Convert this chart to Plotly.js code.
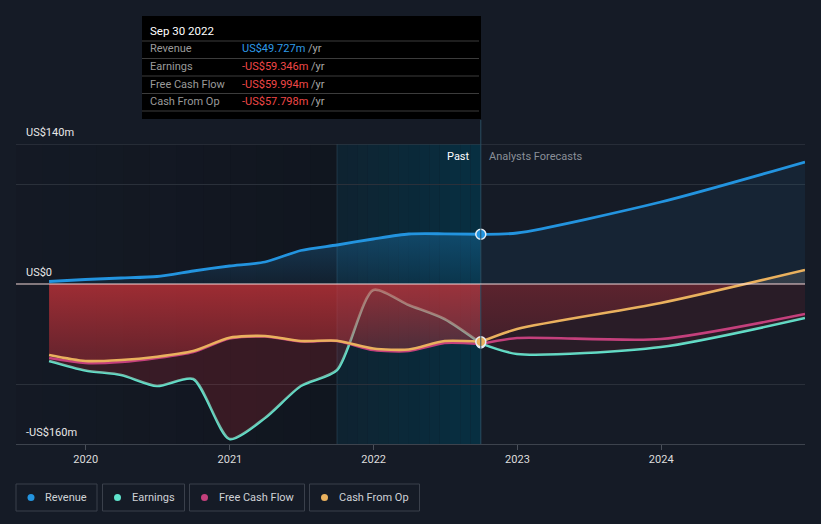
<!DOCTYPE html>
<html>
<head>
<meta charset="utf-8">
<script src="https://cdn.plot.ly/plotly-3.0.1.min.js"></script>
<style>
html,body{margin:0;padding:0;background:#151b26;}
#chart{width:821px;height:524px;}
</style>
</head>
<body>
<div id="chart"></div>
<script>
// ---- data (US$ millions) ----
const pastDates = ['2019-09-30','2019-12-31','2020-03-31','2020-06-30','2020-09-30','2020-12-31','2021-03-31','2021-06-30','2021-09-30','2021-12-31','2022-03-31','2022-06-30','2022-09-30'];
const pastRevenue  = [2.5, 4.5, 6, 7.5, 13, 18, 22, 33.5, 39, 45, 50, 50.2, 49.727];
const pastEarnings = [-77, -86.5, -91, -102, -95, -155, -134, -102, -86, -6, -21, -35, -59.346];
const pastFcf      = [-74, -79, -78, -74, -68, -54.5, -52.5, -57.5, -57, -66, -67, -59, -59.994];
const pastCfo      = [-71, -77, -76, -72.7, -67, -53.7, -52, -57, -56.7, -64.5, -65.5, -57, -57.798];

const fcDates = ['2022-09-30','2022-12-31','2023-12-31','2024-12-31'];
const fcRevenue  = [49.727, 51, 82, 122];
const fcEarnings = [-59.346, -70, -63, -34];
const fcFcf      = [-59.994, -54, -55, -30];
const fcCfo      = [-57.798, -45, -19, 14];

const yearTicks = ['2020-01-01','2021-01-01','2022-01-01','2023-01-01','2024-01-01'];
const yearLabels = ['2020','2021','2022','2023','2024'];
const yLabelVals = [140, 0, -160];
const yLabelText = ['US$140m','US$0','-US$160m'];

const seriesNames = ['Revenue','Earnings','Free Cash Flow','Cash From Op'];
const seriesColors = ['#2394df','#5fe3cc','#c4407c','#eab15e'];

const tipDate = 'Sep 30 2022';
const tipValues = ['US$49.727m','-US$59.346m','-US$59.994m','-US$57.798m'];
const tipColors = ['#2e9be8','#f04848','#f04848','#f04848'];

const highlightStart = '2021-09-30';
const highlightEnd = '2022-09-30';

// ---- geometry helpers (layout only) ----
const W = 821, H = 524, ML = 16, MR = 16, MT = 144, MB = 80;
const PW = W - ML - MR, PH = H - MT - MB;
const px = x => (x - ML) / PW;
const py = y => (H - MB - y) / PH;
function fmt(ms){
  const d = new Date(ms);
  const p = n => String(n).padStart(2,'0');
  return d.getUTCFullYear()+'-'+p(d.getUTCMonth()+1)+'-'+p(d.getUTCDate())+' '+p(d.getUTCHours())+':'+p(d.getUTCMinutes());
}
const FONT = 'Roboto, "Open Sans", sans-serif';

const traces = [];
const sp = {shape:'spline', smoothing:0.7};

// revenue fills
traces.push({x:pastDates, y:pastRevenue, type:'scatter', mode:'none', fill:'tozeroy',
  line:sp, fillgradient:{type:'vertical', start:0, stop:50,
  colorscale:[[0,'rgba(35,148,223,0.08)'],[1,'rgba(35,148,223,0.28)']]}, hoverinfo:'skip'});
traces.push({x:fcDates, y:fcRevenue, type:'scatter', mode:'none', fill:'tozeroy',
  line:sp, fillcolor:'rgba(35,148,223,0.08)', hoverinfo:'skip'});

// earnings lines (under the fills)
traces.push({x:pastDates, y:pastEarnings, type:'scatter', mode:'lines', line:Object.assign({color:seriesColors[1], width:2.6}, sp), hoverinfo:'skip'});
traces.push({x:fcDates, y:fcEarnings, type:'scatter', mode:'lines', line:Object.assign({color:seriesColors[1], width:2.6}, sp), hoverinfo:'skip'});

// earnings fills
traces.push({x:pastDates, y:pastEarnings, type:'scatter', mode:'none', fill:'tozeroy', line:sp,
  fillcolor:'rgba(190,40,50,0.22)', hoverinfo:'skip'});
traces.push({x:fcDates, y:fcEarnings, type:'scatter', mode:'none', fill:'tozeroy', line:sp,
  fillcolor:'rgba(190,40,50,0.12)', hoverinfo:'skip'});

// cash from op fills
traces.push({x:pastDates, y:pastCfo, type:'scatter', mode:'none', fill:'tozeroy', line:sp,
  fillgradient:{type:'vertical', start:-70, stop:0,
  colorscale:[[0,'rgba(220,55,60,0.30)'],[1,'rgba(220,55,60,0.62)']]}, hoverinfo:'skip'});
traces.push({x:fcDates, y:fcCfo, type:'scatter', mode:'none', fill:'tozeroy', line:sp,
  fillgradient:{type:'vertical', start:-60, stop:20,
  colorscale:[[0,'rgba(200,50,60,0.15)'],[0.74,'rgba(200,50,60,0.32)'],[0.76,'rgba(120,120,120,0.28)'],[1,'rgba(120,120,120,0.28)']]}, hoverinfo:'skip'});

// lines
traces.push({x:pastDates, y:pastRevenue, type:'scatter', mode:'lines', line:Object.assign({color:seriesColors[0], width:2.8}, sp), hoverinfo:'skip'});
traces.push({x:fcDates, y:fcRevenue, type:'scatter', mode:'lines', line:Object.assign({color:seriesColors[0], width:2.8}, sp), hoverinfo:'skip'});
traces.push({x:pastDates, y:pastFcf, type:'scatter', mode:'lines', line:Object.assign({color:seriesColors[2], width:2.6}, sp), hoverinfo:'skip'});
traces.push({x:fcDates, y:fcFcf, type:'scatter', mode:'lines', line:Object.assign({color:seriesColors[2], width:2.6}, sp), hoverinfo:'skip'});
traces.push({x:pastDates, y:pastCfo, type:'scatter', mode:'lines', line:Object.assign({color:seriesColors[3], width:2.6}, sp), hoverinfo:'skip'});
traces.push({x:fcDates, y:fcCfo, type:'scatter', mode:'lines', line:Object.assign({color:seriesColors[3], width:2.6}, sp), hoverinfo:'skip'});

// markers at the last reported date
const lastIdx = pastDates.length - 1;
const mk = (vals, ci, size) => ({x:[pastDates[lastIdx]], y:[vals[lastIdx]], type:'scatter', mode:'markers',
  marker:{size:size, color:seriesColors[ci], line:{color:'#e8eef4', width:1.5}}, hoverinfo:'skip'});
traces.push(mk(pastEarnings,1,8));
traces.push(mk(pastFcf,2,8));
traces.push(mk(pastCfo,3,10));
traces.push(mk(pastRevenue,0,10));

// ---- shapes ----
const shapes = [];
// dark gradient on the past region left of highlight
const s0 = new Date('2019-07-08').getTime(), s1 = new Date(highlightStart).getTime();
const NL = 12;
for (let i=0;i<NL;i++){
  shapes.push({type:'rect', xref:'x', yref:'paper', x0:fmt(s0+(s1-s0)*i/NL), x1:fmt(s0+(s1-s0)*(i+1)/NL), y0:0, y1:1,
    fillcolor:'rgba(5,8,12,'+(0.02+0.22*(i+1)/NL).toFixed(3)+')', line:{width:0}, layer:'below'});
}
// teal highlight gradient
const h0 = new Date(highlightStart).getTime(), h1 = new Date(highlightEnd).getTime();
const NH = 14;
for (let i=0;i<NH;i++){
  shapes.push({type:'rect', xref:'x', yref:'paper', x0:fmt(h0+(h1-h0)*i/NH), x1:fmt(h0+(h1-h0)*(i+1)/NH), y0:0, y1:1,
    fillcolor:'rgba(4,52,72,'+(0.3+0.5*(i+1)/NH).toFixed(3)+')', line:{width:0}, layer:'below'});
}
// highlight borders
shapes.push({type:'line', xref:'x', yref:'paper', x0:highlightStart, x1:highlightStart, y0:0, y1:1, line:{color:'rgba(60,90,110,0.45)', width:1}, layer:'below'});
shapes.push({type:'line', xref:'x', yref:'paper', x0:highlightEnd, x1:highlightEnd, y0:0, y1:py(120), line:{color:'#2a4e62', width:1}, layer:'above'});
// top grid line (140)
shapes.push({type:'line', xref:'paper', yref:'y', x0:0, x1:1, y0:140, y1:140, line:{color:'#3a404a', width:1}, layer:'below'});
// zero line
shapes.push({type:'line', xref:'paper', yref:'y', x0:0, x1:1, y0:0, y1:0, line:{color:'rgba(255,225,225,0.95)', width:1.2}, layer:'above'});

// tooltip box
shapes.push({type:'rect', xref:'paper', yref:'paper', x0:px(142), x1:px(481), y0:py(119), y1:py(16), fillcolor:'#000000', line:{width:0}, layer:'above'});
[41, 58.5, 76, 93.5, 111].forEach(yy => {
  shapes.push({type:'line', xref:'paper', yref:'paper', x0:px(142), x1:px(479), y0:py(yy), y1:py(yy), line:{color:'#3c3c3c', width:1}, layer:'above'});
});

// legend boxes
const legBoxes = [[16,97],[102.5,184.5],[189.5,304.5],[309.5,419.5]];
legBoxes.forEach((b,i) => {
  shapes.push({type:'rect', xref:'paper', yref:'paper', x0:px(b[0]), x1:px(b[1]), y0:py(511), y1:py(484),
    line:{color:'#3a404b', width:1}, fillcolor:'rgba(0,0,0,0)', layer:'above'});
  shapes.push({type:'circle', xref:'paper', yref:'paper', x0:px(b[0]+11.5), x1:px(b[0]+18.5), y0:py(501), y1:py(494),
    line:{width:0}, fillcolor:seriesColors[i], layer:'above'});
});

// ---- annotations ----
const ann = [];
yLabelVals.forEach((v,i) => {
  ann.push({xref:'paper', yref:'y', x:px(24), y:v, yshift:12, xanchor:'left', yanchor:'middle', showarrow:false,
    text:yLabelText[i], font:{family:FONT, size:11, color:'#e8e8e8'}});
});
ann.push({xref:'x', yref:'paper', x:highlightEnd, y:py(156), xshift:-9, xanchor:'right', yanchor:'middle', showarrow:false,
  text:'Past', font:{family:FONT, size:11, color:'#ffffff'}});
ann.push({xref:'x', yref:'paper', x:highlightEnd, y:py(156), xshift:6, xanchor:'left', yanchor:'middle', showarrow:false,
  text:'Analysts Forecasts', font:{family:FONT, size:11, color:'#8a8f98'}});
// tooltip text
ann.push({xref:'paper', yref:'paper', x:px(148), y:py(31), xanchor:'left', yanchor:'middle', showarrow:false,
  text:tipDate, font:{family:FONT, size:11.5, color:'#ffffff'}});
const rowY = [48.5, 66, 84, 101.5];
seriesNames.forEach((n,i) => {
  ann.push({xref:'paper', yref:'paper', x:px(148), y:py(rowY[i]), xanchor:'left', yanchor:'middle', showarrow:false,
    text:n, font:{family:FONT, size:11, color:'#9a9a9a'}});
  ann.push({xref:'paper', yref:'paper', x:px(240), y:py(rowY[i]), xanchor:'left', yanchor:'middle', showarrow:false,
    text:'<span style="color:'+tipColors[i]+'">'+tipValues[i]+'</span> /yr', font:{family:FONT, size:11, color:'#a8a8a8'}});
});
// legend text
legBoxes.forEach((b,i) => {
  ann.push({xref:'paper', yref:'paper', x:px(b[0]+27), y:py(497.5), xanchor:'left', yanchor:'middle', showarrow:false,
    text:seriesNames[i], font:{family:FONT, size:11, color:'#cfd2d6'}});
});

const layout = {
  width:W, height:H,
  margin:{l:ML, r:MR, t:MT, b:MB, pad:0},
  paper_bgcolor:'#151b26', plot_bgcolor:'rgba(0,0,0,0)',
  showlegend:false,
  xaxis:{type:'date', range:['2019-07-08','2024-12-31'], tickvals:yearTicks, ticktext:yearLabels,
    ticks:'outside', ticklen:5, tickcolor:'#4a505a', tickfont:{family:FONT, size:11, color:'#dddddd'},
    showgrid:false, zeroline:false, showline:true, linecolor:'#3d434d', linewidth:1, fixedrange:true},
  yaxis:{range:[-160,140], tickvals:[-100,100], showticklabels:false, ticks:'', showgrid:true,
    gridcolor:'#2a303a', gridwidth:1, zeroline:false, showline:false, fixedrange:true},
  shapes:shapes, annotations:ann,
  hovermode:false
};

Plotly.newPlot('chart', traces, layout, {displayModeBar:false, staticPlot:true});
</script>
</body>
</html>
